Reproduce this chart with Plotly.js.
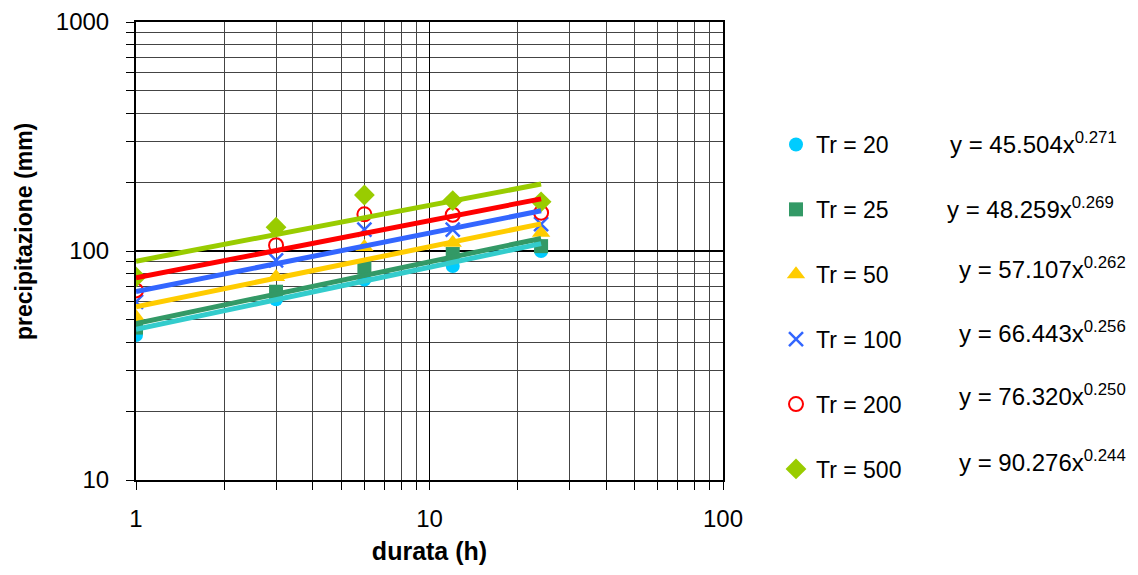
<!DOCTYPE html>
<html>
<head>
<meta charset="utf-8">
<script src="https://cdn.plot.ly/plotly-3.0.1.min.js"></script>
<style>html,body{margin:0;padding:0;background:#fff;}#chart{width:1138px;height:575px;}</style>
</head>
<body>
<div id="chart"></div>
<script>
// ---- data ----
const durata = [1, 3, 6, 12, 24];
const seriesNames = ["Tr = 20", "Tr = 25", "Tr = 50", "Tr = 100", "Tr = 200", "Tr = 500"];
const tr20  = [43.0, 61.5, 75.0, 86.0, 100.0];
const tr25  = [46.3, 66.4, 84.6, 97.0, 105.0];
const tr50  = [51.5, 77.0, 104.0, 108.7, 120.0];
const tr100 = [60.0, 91.0, 124.0, 124.0, 131.0];
const tr200 = [67.3, 106.0, 144.6, 144.0, 147.0];
const tr500 = [77.0, 127.0, 175.6, 166.0, 164.0];
// power-law trendline coefficients (y = a x^b) as printed on the chart
const coefA = [45.504, 48.259, 57.107, 66.443, 76.320, 90.276];
const coefB = [0.271, 0.269, 0.262, 0.256, 0.250, 0.244];
const trendX = [1, 24];
const xTickVals = [1, 10, 100];
const xTickText = ["1", "10", "100"];
const yTickVals = [10, 100, 1000];
const yTickText = ["10", "100", "1000"];

// ---- styling ----
const values = [tr20, tr25, tr50, tr100, tr200, tr500];
const markerColors = ["#00CCFF", "#339966", "#FFCC00", "#3366FF", "#FF0000", "#99CC00"];
const lineColors   = ["#33CCCC", "#339966", "#FFCC00", "#3366FF", "#FF0000", "#99CC00"];
const symbols = ["circle", "square", "triangle-up", "x-thin-open", "circle-open", "diamond"];
const sizes = [14, 14, 16, 14, 14, 16];
const FONT = "Liberation Sans, Arial, sans-serif";

const traces = [];
values.forEach((v, i) => {
  traces.push({
    x: durata, y: v, type: "scatter", mode: "markers",
    name: seriesNames[i], legendgroup: "g" + i,
    marker: {
      symbol: symbols[i], size: sizes[i], color: markerColors[i],
      line: {color: markerColors[i], width: (symbols[i] === "x-thin-open" ? 2.5 : (symbols[i] === "circle-open" ? 2 : 0))}
    },
    hoverinfo: "x+y"
  });
});
// trend lines (drawn over markers), Tr=20 last so it sits on top
const order = [5, 4, 3, 2, 1, 0];
order.forEach(i => {
  traces.push({
    x: trendX, y: trendX.map(x => coefA[i] * Math.pow(x, coefB[i])),
    type: "scatter", mode: "lines", showlegend: false, legendgroup: "g" + i,
    line: {color: lineColors[i], width: 5}, hoverinfo: "skip"
  });
});

const L = 136, R = 723, T = 22, B = 480;
const px = x => (x - L) / (R - L);
const py = y => (B - y) / (B - T);

const eqLeft = [948, 945, 957, 957, 957, 957];
const eqMid  = [143, 208, 268, 332, 395, 461];
const annotations = coefA.map((a, i) => ({
  xref: "paper", yref: "paper", x: px(eqLeft[i]), y: py(eqMid[i]),
  xanchor: "left", yanchor: "middle", showarrow: false,
  text: "y = " + a.toFixed(3) + "x<sup>" + coefB[i].toFixed(3) + "</sup>",
  font: {family: FONT, size: 24, color: "#000"}
}));
annotations.push({
  xref: "paper", yref: "paper", x: px(24), y: py(232),
  xanchor: "center", yanchor: "middle", showarrow: false, textangle: -90,
  text: "<b>precipitazione (mm)</b>", font: {family: FONT, size: 23, color: "#000"}
});

const axisCommon = {
  type: "log", showline: true, linecolor: "#000", linewidth: 2, mirror: true,
  showgrid: true, gridcolor: "#000", gridwidth: 1,
  ticks: "outside", ticklen: 8, tickcolor: "#000", tickwidth: 1,
  zeroline: false,
  tickfont: {family: FONT, size: 24, color: "#000"},
  minor: {dtick: "D1", showgrid: true, gridcolor: "#444", gridwidth: 1, ticks: "outside", ticklen: 8, tickcolor: "#000"}
};

const layout = {
  width: 1138, height: 575,
  margin: {l: L, r: 1138 - R, t: T, b: 575 - B},
  paper_bgcolor: "#fff", plot_bgcolor: "#fff",
  showlegend: true,
  legend: {
    x: px(776), y: py(123), xanchor: "left", yanchor: "top",
    traceorder: "grouped", tracegroupgap: 32,
    font: {family: FONT, size: 23, color: "#000"},
    bgcolor: "rgba(0,0,0,0)"
  },
  xaxis: Object.assign({}, axisCommon, {
    range: [0, 2], tickvals: xTickVals, ticktext: xTickText, ticklabelstandoff: 8,
    title: {text: "<b>durata (h)</b>", font: {family: FONT, size: 25, color: "#000"}, standoff: 12}
  }),
  yaxis: Object.assign({}, axisCommon, {
    range: [1, 3], tickvals: yTickVals, ticktext: yTickText, ticklabelstandoff: 12,
    gridwidth: 2
  }),
  annotations: annotations
};

Plotly.newPlot("chart", traces, layout, {displayModeBar: false, staticPlot: true});
</script>
</body>
</html>
